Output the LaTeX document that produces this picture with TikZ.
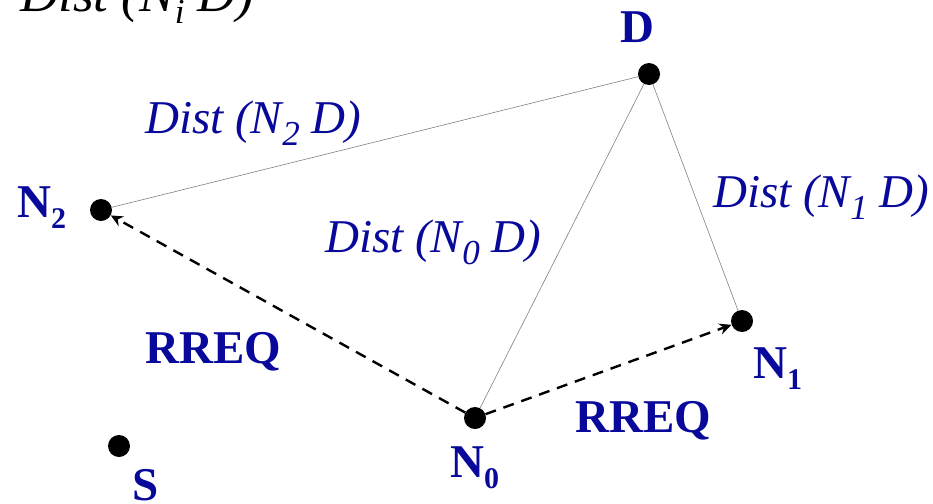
\documentclass[tikz,border=0pt]{standalone}
\usepackage{fontspec}
\setmainfont{Liberation Serif}
\usetikzlibrary{arrows.meta}
\definecolor{lblue}{RGB}{8,8,155}
\newcommand\bsubx[1]{\raisebox{-11pt}{\fontsize{30}{30}\selectfont #1}}
\newcommand\isubx[1]{\raisebox{-12pt}{\fontsize{35}{35}\selectfont\itshape #1}}
\begin{document}
\begin{tikzpicture}[x=1pt,y=-1pt,
  dot/.style={circle,fill=black,inner sep=0pt,minimum size=22pt},
  blab/.style={text=lblue,font=\fontsize{47}{47}\selectfont\bfseries,anchor=base west,inner sep=0pt},
  ilab/.style={text=lblue,font=\fontsize{47}{47}\selectfont\itshape,anchor=base west,inner sep=0pt},
  link/.style={draw=gray,line width=0.6pt},
  req/.style={draw=black,line width=2.4pt,dash pattern=on 11pt off 8pt,-{Stealth[length=12pt,width=11pt]}}]
\useasboundingbox (0,0) rectangle (933,503);
\clip (0,0) rectangle (933,503);
% nodes
\node[dot] (D) at (649,74) {};
\node[dot] (N2) at (101,210) {};
\node[dot] (N0) at (475,418) {};
\node[dot] (N1) at (742,321) {};
\node[dot] (S) at (119,446) {};
% connectors
\draw[link] (D) -- (N2);
\draw[link] (D) -- (N0);
\draw[link] (D) -- (N1);
\draw[req] (N0) -- (N2);
\draw[req] (N0) -- (N1);
% labels
\node[ilab,text=black,font=\fontsize{53}{53}\selectfont\itshape] (top) at (20,12) {Dist (N\isubx{i} D)};
\node[ilab] (d2) at (145,133) {Dist (N\isubx{2} D)};
\node[ilab] (d0) at (325,252) {Dist (N\isubx{0} D)};
\node[ilab] (d1) at (713,207) {Dist (N\isubx{1} D)};
\node[blab] (r1) at (145,363) {RREQ};
\node[blab] (r2) at (575,432) {RREQ};
\node[blab] (lN0) at (450,477) {N\bsubx{0}};
\node[blab] (lN2) at (17,217) {N\bsubx{2}};
\node[blab] (lN1) at (753,378) {N\bsubx{1}};
\node[blab] (lD) at (620,43) {D};
\node[blab] (lS) at (132,500) {S};
\end{tikzpicture}
\end{document}
